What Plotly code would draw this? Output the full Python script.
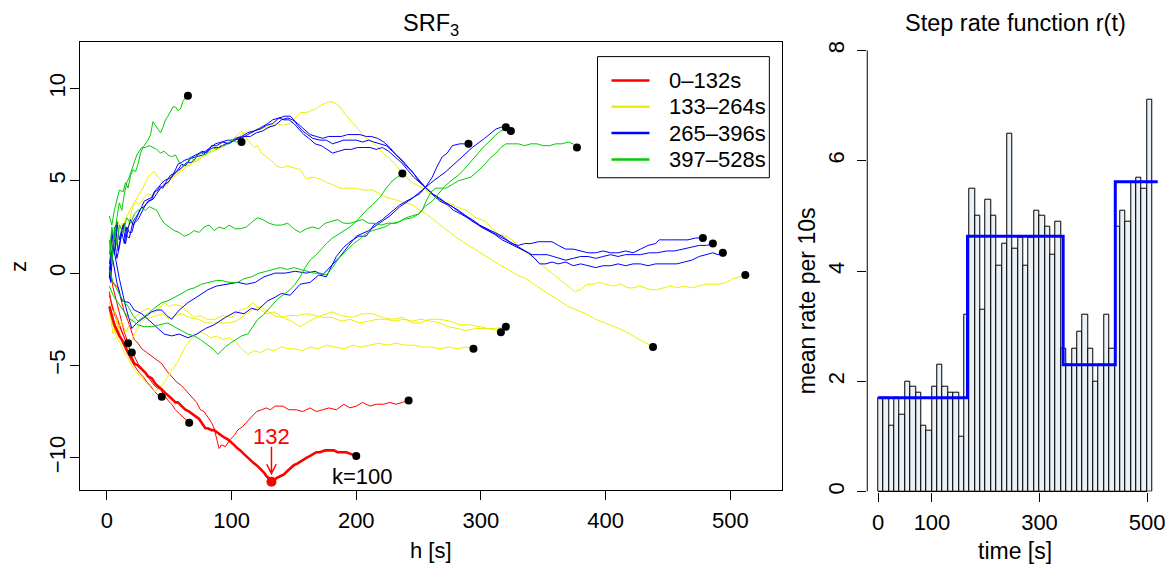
import plotly.graph_objects as go

W, H = 1174, 572

# ---------------- right panel: counts per 10 s and step rate function ----------------
bin_width = 10
rate_per_bin = [1.7, 1.7, 1.2, 1.7, 1.4, 2.0, 1.9, 1.8, 1.2, 1.1, 1.9, 2.3, 1.9, 1.8, 1.8, 1.0,
                3.2, 5.5, 5.0, 3.3, 5.3, 5.0, 4.1, 4.5, 6.5, 4.4, 4.6, 4.1, 4.6, 5.1, 5.0, 4.8,
                4.3, 4.9, 2.6, 2.3, 2.6, 2.9, 3.2, 2.6, 2.0, 2.3, 3.2, 2.6, 4.8, 5.1, 4.9, 5.6,
                5.7, 5.5, 7.1]
step_times = [0, 166, 344, 441, 520]
step_rates = [1.7, 4.63, 2.3, 5.62, 5.62]
time_ticks = [0, 100, 300, 500]
rate_ticks = [0, 2, 4, 6, 8]

# ---------------- left panel: SRF curves (h [s], z) ----------------
legend_labels = ["0\u2013132s", "133\u2013264s", "265\u2013396s", "397\u2013528s"]
h_ticks = [0, 100, 200, 300, 400, 500]
z_ticks = [-10, -5, 0, 5, 10]

red_k100 = [(2,-1.8),(4,-2.3),(6,-2.8),(8,-3.1),(10,-3.4),(12,-3.6),(14,-3.9),(17,-4.3),(20,-4.6),(22,-4.9),
            (25,-5.0),(28,-5.2),(31,-5.4),(33,-5.6),(36,-5.7),(39,-6.0),(41,-6.1),(44,-6.3),(47,-6.5),(49,-6.6),
            (52,-6.8),(55,-7.0),(57,-7.0),(60,-7.2),(63,-7.4),(66,-7.5),(68,-7.6),(71,-7.8),(74,-7.9),(76,-8.1),
            (79,-8.4),(81,-8.4),(84,-8.5),(86,-8.5),(88,-8.6),(91,-8.8),(94,-8.9),(97,-9.0),(99,-9.1),(102,-9.3),
            (105,-9.5),(107,-9.6),(110,-9.8),(113,-10.0),(115,-10.1),(118,-10.3),(120,-10.4),(123,-10.6),
            (126,-10.8),(128,-11.0),(130,-11.1),(132,-11.3),(134,-11.2),(136,-11.1),(139,-11.0),(142,-10.9),
            (145,-10.7),(147,-10.6),(150,-10.4),(153,-10.3),(157,-10.1),(160,-10.0),(163,-9.9),(166,-9.8),
            (168,-9.7),(171,-9.7),(175,-9.6),(179,-9.6),(182,-9.6),(185,-9.7),(189,-9.7),(192,-9.7),(196,-9.8),
            (200,-9.9)]
red_a = [(2,-0.3),(5,-0.5),(9,-0.8),(12,-1.6),(14,-2.1),(17,-2.6),(20,-3.2),(22,-3.6),(25,-3.8),(28,-4.1),
         (32,-4.3),(36,-4.5),(40,-4.7),(44,-4.9),(48,-5.3),(52,-5.6),(56,-5.9),(60,-6.1),(64,-6.4),(68,-6.7),
         (72,-7.0),(75,-7.4),(78,-7.5),(81,-7.8),(84,-8.1),(86,-8.4),(88,-8.9),(90,-9.5),(92,-9.3),(95,-9.4),
         (99,-9.0),(102,-8.8),(105,-8.5),(109,-8.3),(113,-8.0),(117,-7.7),(120,-7.5),(124,-7.4),(128,-7.3),
         (131,-7.4),(135,-7.2),(141,-7.2),(146,-7.4),(152,-7.4),(157,-7.5),(163,-7.3),(168,-7.5),(173,-7.4),
         (178,-7.3),(184,-7.4),(190,-7.1),(195,-7.3),(200,-7.2),(205,-7.0),(211,-7.2),(216,-7.1),(222,-7.1),
         (227,-7.0),(232,-7.1),(237,-7.0),(242,-6.9)]
red_b = [(2,-1.0),(4,-1.8),(7,-2.4),(10,-2.9),(13,-3.4),(16,-3.8),(19,-4.2),(22,-4.5),(25,-4.9),(28,-5.2),
         (31,-5.4),(34,-5.7),(37,-6.0),(40,-6.2),(43,-6.3),(46,-6.6),(49,-6.9),(52,-7.1),(55,-7.4),(58,-7.6),
         (61,-7.8),(64,-8.0),(66,-8.1)]
red_c = [(2,-2.0),(5,-2.6),(8,-3.0),(11,-3.5),(14,-3.9),(17,-4.4),(20,-4.8),(23,-5.1),(26,-5.4),(29,-5.6),
         (32,-5.9),(35,-6.1),(38,-6.4),(41,-6.6),(44,-6.7)]
red_d = [(2,0.3),(5,-0.8),(8,-1.6),(11,-2.4),(14,-3.2),(17,-3.8)]
red_e = [(2,-1.2),(5,-1.9),(8,-2.4),(11,-3.0),(14,-3.5),(17,-4.0),(20,-4.3)]

yel_1 = [(2,1.1),(4,0.4),(6,2.2),(8,1.6),(10,2.4),(12,2.7),(15,2.2),(17,2.5),(20,3.4),(22,3.8),(25,4.2),
         (28,4.5),(31,4.9),(33,5.2),(36,5.4),(38,5.5),(41,5.2),(44,5.0),(47,4.7),(49,4.8),(52,5.3),(54,5.4),
         (58,5.5),(62,5.8),(66,5.9),(71,6.1),(76,6.3),(81,6.5),(86,6.6),(92,6.8),(97,7.0),(103,7.2),(108,7.5),
         (113,7.7),(117,7.6),(120,7.8),(124,7.8),(128,7.9),(132,8.0),(136,8.1),(141,8.0),(147,8.1),(151,8.4),
         (155,8.7),(160,8.7),(164,8.8),(168,8.9),(172,9.1),(176,9.2),(179,9.3),(183,9.2),(187,9.0),(191,8.6),
         (195,8.3),(199,8.0),(203,7.7),(208,7.3),(213,7.1),(219,6.7),(223,6.4),(227,6.2),(231,5.9),(235,5.6),
         (240,5.2),(245,4.9),(250,4.7),(256,4.5),(261,4.2),(266,4.0),(271,3.8),(275,3.8),(280,3.6),(284,3.5),
         (288,3.4),(292,3.2),(296,3.0),(300,2.9),(304,2.8),(309,2.4),(314,2.1),(320,2.0),(325,1.8),(330,1.4),
         (336,1.1),(342,0.9),(348,0.5),(353,0.2),(357,0.0),(362,-0.3),(366,-0.5),(370,-0.7),(375,-1.0),
         (380,-0.9),(385,-0.6),(390,-0.6),(395,-0.5),(400,-0.6),(406,-0.7),(412,-0.6),(418,-0.8),(422,-0.8),
         (427,-0.7),(432,-0.8),(437,-0.9),(441,-0.9),(446,-0.8),(452,-0.7),(458,-0.8),(463,-0.7),(469,-0.8),
         (475,-0.7),(480,-0.6),(486,-0.6),(491,-0.6),(497,-0.5),(502,-0.3),(507,-0.2),(512,-0.1)]
yel_2 = [(2,0.5),(4,2.0),(6,1.2),(9,2.8),(12,2.3),(15,3.0),(17,3.2),(20,3.6),(23,3.9),(26,3.7),(30,4.1),
         (33,4.3),(36,4.2),(40,4.4),(44,4.6),(48,4.9),(52,5.1),(56,5.3),(60,5.5),(65,5.8),(70,6.0),(75,6.2),
         (81,6.5),(86,6.7),(92,6.8),(97,7.0),(102,7.3),(106,7.6),(108,7.7),(111,7.4),(113,7.2),(118,6.8),
         (121,6.9),(124,6.5),(128,6.3),(132,6.1),(136,5.8),(140,5.7),(145,5.8),(151,5.7),(155,5.6),(160,5.1),
         (165,5.2),(171,5.1),(176,4.9),(181,4.8),(187,4.6),(193,4.6),(200,4.6),(206,4.5),(213,4.5),(219,4.3),
         (224,4.1),(230,4.0),(235,3.9),(240,3.8),(245,3.7),(251,3.4),(256,3.2),(262,2.9),(269,2.5),(275,2.2),
         (281,1.9),(288,1.6),(295,1.3),(302,1.0),(309,0.7),(316,0.4),(322,0.2),(329,-0.1),(336,-0.3),
         (342,-0.6),(349,-0.9),(356,-1.2),(363,-1.5),(370,-1.8),(377,-2.0),(384,-2.2),(392,-2.5),(400,-2.7),
         (407,-2.9),(414,-3.1),(422,-3.4),(428,-3.6),(433,-3.8),(438,-4.0)]
yel_3 = [(2,-1.5),(4,-2.5),(6,-2.0),(9,-3.0),(12,-2.6),(15,-3.2),(18,-2.8),(22,-2.4),(26,-2.2),(30,-2.0),
         (34,-1.9),(38,-2.2),(42,-1.9),(46,-1.6),(50,-1.8),(55,-1.7),(60,-1.8),(65,-2.1),(70,-2.4),(75,-2.3),
         (80,-2.5),(87,-2.5),(93,-2.3),(100,-2.4),(107,-2.0),(112,-1.9),(117,-1.6),(122,-1.9),(128,-2.2),
         (134,-2.1),(141,-2.4),(148,-2.6),(155,-2.9),(160,-2.7),(165,-2.5),(172,-2.3),(181,-2.1),(188,-2.3),
         (197,-2.4),(205,-2.2),(213,-2.2),(221,-2.4),(229,-2.5),(237,-2.4),(245,-2.7),(251,-2.7),(259,-2.5),
         (267,-2.5),(275,-2.6),(283,-2.8),(291,-2.8),(299,-2.9),(306,-3.0),(312,-3.1),(316,-3.2)]
yel_4 = [(2,-2.0),(5,-3.3),(8,-2.5),(11,-3.4),(14,-3.9),(17,-4.1),(20,-3.6),(23,-3.2),(26,-2.8),(30,-2.5),
         (35,-2.4),(40,-2.3),(45,-2.2),(50,-2.5),(55,-2.3),(60,-2.2),(66,-2.4),(73,-2.5),(80,-2.7),(88,-2.7),
         (97,-2.7),(104,-2.6),(110,-2.3),(116,-2.0),(123,-1.8),(129,-2.1),(134,-2.3),(139,-2.4),(146,-2.3),
         (153,-2.3),(160,-2.2),(167,-2.3),(174,-2.4),(181,-2.4),(188,-2.6),(195,-2.5),(203,-2.7),(210,-2.6),
         (217,-2.5),(224,-2.5),(231,-2.6),(238,-2.5),(245,-2.6),(252,-2.5),(259,-2.6),(267,-2.7),(274,-2.9),
         (281,-3.0),(288,-3.1),(296,-3.0),(304,-3.0),(312,-3.0),(320,-2.9)]
yel_5 = [(2,-2.2),(5,-2.9),(8,-3.5),(11,-3.8),(14,-4.3),(17,-4.6),(20,-5.0),(24,-5.4),(28,-5.7),(32,-6.0),
         (35,-6.2),(38,-6.4),(41,-6.3),(44,-6.1),(47,-5.8),(50,-5.5),(53,-5.2),(56,-4.9),(59,-4.5),(62,-4.1),
         (65,-3.8),(68,-3.5),(71,-3.4),(75,-3.2),(79,-3.3),(83,-3.5),(88,-3.4),(93,-3.6),(98,-3.5),(103,-3.7),
         (108,-4.1),(113,-4.4),(118,-4.2),(123,-4.3),(129,-4.1),(134,-4.2),(140,-4.0),(146,-4.1),(151,-4.1),
         (157,-4.2),(163,-4.0),(169,-4.1),(176,-3.9),(183,-4.0),(190,-4.1),(197,-3.9),(204,-4.0),(211,-3.9),
         (218,-3.8),(225,-3.9),(232,-3.8),(239,-3.9),(246,-3.9),(253,-4.0),(260,-4.0),(267,-4.1),(274,-4.0),
         (281,-4.1),(288,-4.0),(294,-4.1)]

blu_1 = [(2,-0.2),(3,1.2),(4,2.3),(6,1.0),(8,2.8),(10,1.8),(12,2.4),(14,2.7),(16,2.0),(18,1.9),(20,2.6),
         (21,2.8),(23,3.0),(25,3.2),(28,3.6),(30,3.9),(33,4.0),(36,4.1),(38,4.4),(41,4.5),(43,4.8),(46,5.0),
         (49,5.1),(52,5.2),(55,5.6),(57,5.9),(60,6.0),(62,6.1),(66,6.2),(71,6.4),(75,6.5),(79,6.6),(83,6.8),
         (87,7.0),(92,7.1),(97,7.2),(102,7.2),(108,7.3),(113,7.5),(119,7.7),(124,7.9),(129,8.1),(133,8.3),
         (138,8.4),(143,8.5),(147,8.5),(150,8.3),(153,8.0),(157,7.7),(161,7.5),(165,7.3),(171,7.2),(176,7.2),
         (181,7.0),(186,7.1),(190,7.2),(195,7.2),(200,7.2),(205,7.1),(210,7.2),(214,7.1),(219,7.0),(224,6.9),
         (229,6.6),(235,6.2),(240,5.8),(245,5.5),(250,5.0),(256,4.6),(261,4.3),(267,4.0),(272,3.8),(277,3.6),
         (283,3.3),(288,3.1),(293,2.8),(299,2.6),(304,2.4),(309,2.2),(315,2.0),(320,1.8),(325,1.6),(330,1.5),
         (335,1.6),(340,1.6),(346,1.7),(352,1.7),(357,1.7),(362,1.5),(368,1.3),(374,1.3),(380,1.2),(386,1.1),
         (392,1.1),(398,1.2),(404,1.1),(410,1.1),(416,1.2),(422,1.1),(428,1.3),(434,1.5),(440,1.6),(443,1.8),
         (448,1.8),(454,1.8),(460,1.8),(466,1.8),(472,1.9),(478,1.9)]
blu_2 = [(2,0.2),(3,-0.5),(5,1.5),(7,2.6),(9,1.2),(11,2.0),(13,2.6),(15,1.6),(17,2.4),(19,2.9),(21,2.6),
         (24,3.0),(27,3.5),(30,3.6),(33,3.9),(36,4.0),(39,4.5),(42,4.7),(45,4.6),(48,5.0),(51,5.3),(54,5.4),
         (57,5.6),(60,5.9),(63,5.8),(67,6.2),(71,6.3),(76,6.6),(80,6.5),(84,6.9),(88,6.9),(93,7.1),(98,7.0),
         (103,7.3),(108,7.4),(113,7.6),(118,7.7),(123,7.8),(128,8.0),(133,8.1),(138,8.4),(142,8.3),(146,8.3),
         (150,8.1),(154,7.8),(158,7.5),(162,7.3),(167,7.0),(172,6.9),(177,6.7),(181,6.5),(186,6.6),(191,6.7),
         (196,6.7),(201,6.8),(206,6.8),(211,6.8),(216,6.7),(221,6.8),(226,6.6),(231,6.3),(236,6.0),(241,5.6),
         (246,5.2),(251,4.9),(256,4.6),(262,4.2),(267,3.9),(273,3.7),(278,3.4),(284,3.2),(289,3.0),(294,2.8),
         (300,2.5),(305,2.3),(311,2.1),(317,1.8),(323,1.6),(329,1.4),(335,1.2),(341,1.0),(347,1.0),(353,1.0),
         (358,0.9),(363,0.8),(368,0.7),(374,0.8),(380,0.9),(386,0.9),(392,0.8),(398,0.9),(404,1.0),(410,0.9),
         (416,1.0),(422,1.0),(428,1.0),(435,1.1),(441,1.1),(449,1.2),(455,1.2),(462,1.3),(469,1.4),(475,1.5),
         (481,1.5),(486,1.6)]
blu_3 = [(2,-0.3),(4,0.8),(6,2.0),(8,0.8),(10,1.4),(12,2.2),(14,1.6),(16,2.5),(18,2.2),(20,2.2),(22,2.7),
         (25,2.9),(28,3.3),(31,3.7),(34,3.9),(37,4.0),(40,4.3),(43,4.6),(46,4.8),(49,4.9),(52,5.2),(56,5.5),
         (60,5.7),(64,6.0),(68,6.0),(72,6.3),(77,6.4),(82,6.7),(86,6.8),(90,6.8),(95,7.0),(100,7.1),(105,7.3),
         (110,7.4),(115,7.4),(120,7.6),(125,7.7),(130,7.9),(135,8.0),(140,8.3),(145,8.4),(149,8.3),(153,8.1),
         (158,7.8),(163,7.5),(168,7.4),(173,7.3),(178,7.4),(183,7.4),(188,7.4),(193,7.5),(198,7.5),(203,7.5),
         (208,7.4),(212,7.4),(217,7.3),(222,7.1),(227,6.8),(232,6.4),(237,6.1),(242,5.7),(247,5.3),(252,4.9),
         (256,4.6),(261,4.3),(266,4.1),(272,3.8),(277,3.6),(282,3.4),(288,3.1),(293,2.9),(299,2.6),(305,2.4),
         (311,2.2),(317,2.0),(323,1.7),(328,1.5),(333,1.3),(338,1.1),(343,0.8),(347,0.5),(352,0.5),(357,0.6),
         (362,0.5),(368,0.6),(374,0.4),(380,0.5),(386,0.4),(392,0.3),(398,0.4),(404,0.4),(410,0.5),(416,0.4),
         (422,0.5),(428,0.5),(434,0.4),(440,0.5),(446,0.5),(452,0.5),(457,0.5),(463,0.6),(469,0.7),(475,0.9),
         (481,1.0),(486,1.1),(490,1.0),(494,1.1)]
blu_4 = [(2,0.0),(4,1.0),(8,-0.5),(12,-1.5),(18,-1.6),(22,-2.0),(28,-2.2),(33,-2.5),(40,-2.9),(46,-3.3),
         (52,-3.4),(58,-3.3),(65,-3.5),(72,-3.3),(79,-3.0),(86,-2.8),(95,-2.4),(103,-2.1),(110,-2.2),(116,-1.9),
         (121,-2.0),(129,-1.5),(135,-1.3),(140,-1.1),(147,-1.2),(155,-0.6),(163,-0.5),(170,-0.1),(176,-0.2),
         (184,0.9),(190,1.4),(195,1.7),(202,2.0),(208,2.0),(214,2.6),(221,2.9),(228,3.3),(235,3.7),(243,4.0),
         (251,4.3),(256,4.7),(261,5.2),(265,5.8),(269,6.3),(273,6.5),(277,6.9),(283,7.0),(290,7.0)]
blu_5 = [(2,0.5),(5,1.5),(10,-0.3),(15,-1.8),(20,-3.0),(24,-2.7),(28,-2.5),(32,-2.3),(36,-2.1),(40,-2.0),
         (44,-2.0),(48,-2.3),(52,-2.5),(58,-2.0),(65,-1.6),(72,-1.3),(81,-0.9),(88,-0.7),(97,-0.6),(105,-0.5),
         (112,-0.6),(119,-0.5),(126,-0.2),(135,0.0),(143,0.0),(151,0.1),(160,0.0),(167,0.1),(173,-0.1),
         (180,0.4),(187,0.9),(194,1.5),(200,2.0),(210,2.3),(219,2.7),(227,3.1),(235,3.6),(244,4.0),(253,4.5),
         (262,5.0),(272,5.5),(282,6.1),(293,6.8),(303,7.3),(312,7.8),(316,7.9),(320,7.9)]

grn_1 = [(2,3.1),(4,2.6),(6,3.4),(8,3.9),(10,4.5),(13,4.4),(15,4.9),(17,4.6),(19,5.3),(21,5.6),(23,5.5),
         (25,5.9),(27,6.5),(29,6.8),(31,7.0),(33,7.2),(35,7.5),(37,8.2),(39,8.0),(41,7.8),(43,7.6),(45,7.9),
         (47,8.3),(49,8.5),(51,8.8),(53,9.0),(55,9.0),(57,8.8),(59,8.9),(61,9.3),(63,9.5),(65,9.6)]
grn_2 = [(2,1.0),(4,2.5),(6,1.8),(8,3.0),(10,3.8),(12,3.4),(14,4.3),(16,4.9),(18,5.2),(20,5.6),(22,5.9),
         (24,6.4),(26,6.6),(28,6.8),(31,6.8),(34,6.9),(37,6.8),(40,6.7),(43,6.5),(46,6.6),(49,6.4),(52,6.3),
         (55,6.4),(58,6.0),(61,5.8),(64,5.9),(67,6.3),(70,6.1),(73,6.4),(76,6.5),(79,6.4),(82,6.6),(85,6.8),
         (88,6.7),(91,6.9),(94,6.9),(97,7.0),(100,7.2),(104,7.1),(108,7.1)]
grn_3 = [(2,1.8),(4,0.5),(6,2.5),(8,1.5),(10,2.6),(13,2.2),(16,3.0),(19,2.7),(22,3.2),(25,3.4),(28,3.5),
         (31,3.4),(34,3.6),(37,3.5),(40,3.4),(43,3.0),(46,2.7),(50,2.5),(54,2.3),(58,2.2),(62,2.0),(66,2.1),
         (70,2.3),(74,2.2),(78,2.5),(82,2.6),(86,2.3),(90,2.5),(94,2.4),(98,2.6),(103,2.4),(107,2.4),(112,2.5),
         (117,2.8),(121,3.0),(125,2.9),(130,2.7),(135,2.6),(140,2.6),(145,2.7),(150,2.4),(155,2.2),(160,2.4),
         (165,2.5),(170,2.4),(175,2.7),(180,2.8),(185,2.9),(190,2.7),(195,2.7),(200,2.8),(205,2.9),(210,2.7),
         (215,2.7),(220,2.6),(225,2.7),(230,2.7),(235,2.8),(240,3.0),(245,3.1),(250,3.2),(253,3.4),(256,3.9),
         (260,4.4),(264,4.6),(268,4.6),(272,4.6),(277,4.8),(282,5.0),(287,5.1),(292,5.2),(297,5.5),(302,5.8),
         (307,6.2),(312,6.5),(316,6.8),(320,7.0),(325,7.0),(330,7.0),(335,6.9),(340,7.0),(345,7.0),(350,6.9),
         (355,6.9),(360,7.0),(365,7.0),(370,7.1),(374,7.0),(377,6.8)]
grn_4 = [(2,-0.7),(5,-1.2),(9,-1.6),(13,-2.0),(17,-2.4),(21,-2.6),(25,-2.8),(30,-2.9),(36,-2.9),(42,-2.8),
         (49,-2.7),(54,-2.9),(60,-3.1),(65,-3.3),(70,-3.4),(75,-3.6),(81,-3.9),(85,-4.1),(89,-4.4),(92,-4.2),
         (95,-4.0),(99,-3.8),(103,-3.6),(108,-3.4),(113,-3.3),(117,-2.9),(121,-2.5),(125,-2.3),(129,-2.0),
         (132,-1.8),(137,-1.4),(143,-1.1),(147,-0.9),(151,-0.6),(155,-0.2),(159,0.3),(163,0.7),(168,1.0),
         (172,1.3),(176,1.6),(181,1.9),(186,2.1),(190,2.3),(195,2.5),(200,2.8),(204,3.1),(208,3.4),(213,3.7),
         (219,4.1),(224,4.6),(229,5.0),(233,5.2),(237,5.4)]
grn_5 = [(2,0.2),(5,-0.5),(9,-1.0),(13,-1.5),(17,-1.8),(21,-2.3),(25,-2.6),(29,-2.4),(33,-2.2),(38,-1.9),
         (44,-1.6),(49,-1.5),(55,-1.3),(60,-1.1),(65,-0.9),(70,-0.8),(76,-0.6),(82,-0.5),(88,-0.4),(92,-0.4),
         (98,-0.5),(105,-0.5),(110,-0.3),(116,-0.2),(122,0.0),(128,0.1),(133,0.2),(139,0.3),(145,0.2),
         (150,0.3),(155,0.2),(160,0.1),(166,0.0),(171,0.0),(176,-0.1),(181,0.3),(186,0.8),(192,1.2),(198,1.6),
         (204,1.9),(209,2.2),(213,2.3),(218,2.4),(223,2.5),(228,2.7),(232,2.7),(238,2.9),(245,3.0),(250,3.2),
         (255,3.6),(261,3.9),(266,4.3),(271,4.7),(276,5.0),(280,5.2),(285,5.5),(289,5.8),(293,6.1),(298,6.5),
         (303,6.9),(308,7.2),(312,7.5),(316,7.7),(320,7.8),(324,7.7)]

# ---------------- styles ----------------
RED, YEL, BLU, GRN = "#FF0000", "#EEEE00", "#0000FF", "#00CD00"
group_colors = [RED, YEL, BLU, GRN]
FONT = "Liberation Sans, Arial, sans-serif"
FS = 22

groups = [
    (RED, [red_a, red_b, red_c, red_d, red_e]),
    (YEL, [yel_1, yel_2, yel_3, yel_4, yel_5]),
    (BLU, [blu_1, blu_2, blu_3, blu_4, blu_5]),
    (GRN, [grn_1, grn_2, grn_3, grn_4, grn_5]),
]

fig = go.Figure()

ends_h, ends_z = [], []
for col, curves in groups:
    for c in curves:
        hs = [p[0] for p in c]
        zs = [p[1] for p in c]
        fig.add_trace(go.Scatter(x=hs, y=zs, mode="lines", showlegend=False, hoverinfo="skip",
                                 line=dict(color=col, width=1), xaxis="x", yaxis="y"))
        ends_h.append(hs[-1]); ends_z.append(zs[-1])

# thick k=100 curve on top
k_h = [p[0] for p in red_k100]
k_z = [p[1] for p in red_k100]
fig.add_trace(go.Scatter(x=k_h, y=k_z, mode="lines", showlegend=False,
                         line=dict(color=RED, width=2.6), xaxis="x", yaxis="y"))
ends_h.append(k_h[-1]); ends_z.append(k_z[-1])

# end-point dots
fig.add_trace(go.Scatter(x=ends_h, y=ends_z, mode="markers", showlegend=False,
                         marker=dict(color="black", size=8), xaxis="x", yaxis="y"))

# minimum of k=100 curve
imin = k_z.index(min(k_z))
h_min, z_min = k_h[imin], k_z[imin]
fig.add_trace(go.Scatter(x=[h_min], y=[z_min], mode="markers", showlegend=False,
                         marker=dict(color=RED, size=10), xaxis="x", yaxis="y"))

# ---- right panel traces
bin_centers = [bin_width * i + bin_width / 2 for i in range(len(rate_per_bin))]
fig.add_trace(go.Bar(x=bin_centers, y=rate_per_bin, width=bin_width, showlegend=False,
                     marker=dict(color="#EAF1F7", line=dict(color="black", width=1)),
                     xaxis="x2", yaxis="y2"))
fig.add_trace(go.Scatter(x=step_times, y=step_rates, mode="lines", line_shape="hv", showlegend=False,
                         line=dict(color=BLU, width=3), xaxis="x2", yaxis="y2"))

# ---------------- layout ----------------
def px_x(p):
    return p / W

def px_y(p):
    return 1 - p / H

axis_common = dict(showgrid=False, zeroline=False, ticks="outside", ticklen=9, tickcolor="black",
                   tickwidth=1, tickfont=dict(size=FS, color="black", family=FONT))

fig.update_layout(
    width=W, height=H, margin=dict(l=0, r=0, t=0, b=0),
    paper_bgcolor="white", plot_bgcolor="white", bargap=0, showlegend=False,
    font=dict(family=FONT, size=FS, color="black"),
    xaxis=dict(domain=[px_x(80), px_x(783)], range=[-21.6, 541.7], tickvals=h_ticks,
               showline=True, mirror=True, linecolor="black", linewidth=1, anchor="y",
               ticklabelstandoff=2, **axis_common),
    yaxis=dict(domain=[px_y(492), px_y(41)], range=[-11.72, 12.53], tickvals=z_ticks, tickangle=-90,
               showline=True, mirror=True, linecolor="black", linewidth=1, anchor="x",
               ticklabelstandoff=-4, **axis_common),
    xaxis2=dict(domain=[px_x(868), px_x(1165)], range=[-20.4, 531.6], tickvals=time_ticks,
                showline=False, anchor="y2", ticklabelstandoff=2, **axis_common),
    yaxis2=dict(domain=[px_y(494), px_y(41)], range=[0, 8.16], tickvals=rate_ticks, tickangle=-90,
                showline=False, anchor="x2", ticklabelstandoff=4, **axis_common),
)

# legend geometry (pixels)
LEG_L, LEG_R, LEG_T, LEG_B = 598, 770, 56, 178
LEG_ROW0, LEG_DY = 80, 26.5
LEG_LINE_X0, LEG_LINE_X1, LEG_TEXT_X = 612, 650, 668

shapes = [
    # R-style axis lines for the bar chart (span ticks only)
    dict(type="line", xref="x2 domain", yref="y2", x0=0, x1=0, y0=rate_ticks[0], y1=rate_ticks[-1],
         line=dict(color="black", width=1)),
    dict(type="line", xref="x2", yref="y2 domain", x0=time_ticks[0], x1=time_ticks[-1], y0=0, y1=0,
         line=dict(color="black", width=1)),
    # arrow pointing at the minimum
    dict(type="path", xref="x", yref="y",
         path=f"M {h_min},{z_min + 1.9} L {h_min},{z_min + 0.45} "
              f"M {h_min - 3.8},{z_min + 0.95} L {h_min},{z_min + 0.45} L {h_min + 3.8},{z_min + 0.95}",
         line=dict(color=RED, width=1.5)),
    # legend frame
    dict(type="rect", xref="paper", yref="paper", x0=px_x(LEG_L), x1=px_x(LEG_R),
         y0=px_y(LEG_B), y1=px_y(LEG_T), line=dict(color="black", width=1), fillcolor="white"),
]
annotations = []
for i, (lab, col) in enumerate(zip(legend_labels, group_colors)):
    yy = px_y(LEG_ROW0 + i * LEG_DY)
    shapes.append(dict(type="line", xref="paper", yref="paper", x0=px_x(LEG_LINE_X0), x1=px_x(LEG_LINE_X1),
                       y0=yy, y1=yy, line=dict(color=col, width=2.5)))
    annotations.append(dict(text=lab, x=px_x(LEG_TEXT_X), y=yy, xref="paper", yref="paper",
                            xanchor="left", yanchor="middle", showarrow=False, font=dict(size=FS)))

def lab(text, x, y, size=FS, angle=0, color="black", xref="paper", yref="paper"):
    return dict(text=text, x=x, y=y, xref=xref, yref=yref, xanchor="center", yanchor="middle",
                showarrow=False, textangle=angle, font=dict(size=size, color=color))

annotations += [
    lab("SRF<sub>3</sub>", px_x(431), px_y(24), size=23.5),
    lab("Step rate function r(t)", px_x(1016), px_y(22), size=23.5),
    lab("h [s]", px_x(431), px_y(553)),
    lab("time [s]", px_x(1016), px_y(554), size=23),
    lab("z", px_x(18), px_y(267), angle=-90),
    lab("mean rate per 10s", px_x(808), px_y(302), size=23, angle=-90),
    lab(str(h_min), h_min, z_min + 2.45, color=RED, xref="x", yref="y"),
    lab("k=100", k_h[-1] + 5, k_z[-1] - 1.1, xref="x", yref="y"),
]
fig.update_layout(shapes=shapes, annotations=annotations)

fig.write_html("out.html")
